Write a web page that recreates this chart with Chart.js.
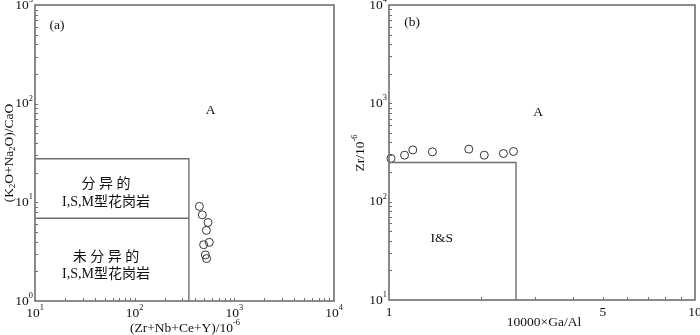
<!DOCTYPE html>
<html>
<head>
<meta charset="utf-8">
<script src="https://cdn.jsdelivr.net/npm/chart.js@4.4.1/dist/chart.umd.min.js"></script>
<style>
  body { margin: 0; background: #fff; }
  #wrap { position: relative; width: 700px; height: 335px; }
  canvas { position: absolute; top: 0; }
</style>
</head>
<body>
<div id="wrap">
  <canvas id="chartA" width="350" height="335" style="left:0"></canvas>
  <canvas id="chartB" width="350" height="335" style="left:350px"></canvas>
</div>
<script>
// (a) (Zr+Nb+Ce+Y) vs (K2O+Na2O)/CaO
const zrNbCeY = [446, 477, 544, 524, 561, 492, 512, 527];
const alkCaO = [9.1, 7.47, 6.25, 5.19, 3.93, 3.72, 2.93, 2.69];

// (b) 10000*Ga/Al vs Zr
const gaAl = [1.015, 1.124, 1.196, 1.386, 1.823, 2.048, 2.366, 2.551];
const zr = [275, 297, 336, 321, 342, 297, 309, 324];

// field boundaries
const aFieldX = 350, aFieldTop = 27.7, aFieldSplit = 6.9;
const bFieldX = 2.6, bFieldY = 250;

// tick labels
const aXTicks = [10, 100, 1000, 10000];
const aYTicks = [1, 10, 100, 1000];
const bXTicks = [1, 5, 10];
const bYTicks = [10, 100, 1000, 10000];

const SERIF = "'Liberation Serif', 'Noto Sans CJK SC', serif";
const LINE = '#6e6e6e';

// draw text made of parts: [text, shift] shift 1 = superscript, -1 = subscript
function richWidth(ctx, parts, size) {
  let w = 0;
  parts.forEach(p => {
    ctx.font = (p[1] ? size * 0.62 : size) + 'px ' + SERIF;
    w += ctx.measureText(p[0]).width;
  });
  return w;
}
function drawRich(ctx, parts, x, y, size, align) {
  const w = richWidth(ctx, parts, size);
  let cx = align === 'right' ? x - w : align === 'left' ? x : x - w / 2;
  ctx.textBaseline = 'middle';
  ctx.textAlign = 'left';
  parts.forEach(p => {
    ctx.font = (p[1] ? size * 0.62 : size) + 'px ' + SERIF;
    const dy = p[1] === 1 ? -size * 0.38 : p[1] === -1 ? size * 0.28 : 0;
    ctx.fillText(p[0], cx, y + dy);
    cx += ctx.measureText(p[0]).width;
  });
}
function logLabel(v) {
  return [['10', 0], [String(Math.round(Math.log10(v))), 1]];
}
function logSteps(min, max) {
  const out = [];
  for (let d = Math.floor(Math.log10(min)); d <= Math.ceil(Math.log10(max)); d++) {
    for (let k = 1; k <= 9; k++) {
      const v = k * Math.pow(10, d);
      if (v > min * 1.0001 && v < max * 0.9999) out.push(v);
    }
  }
  return out;
}

const framePlugin = {
  id: 'frame',
  afterDraw(chart, args, opts) {
    const { ctx, chartArea: a, scales: { x, y } } = chart;
    ctx.save();
    ctx.fillStyle = '#111';
    ctx.strokeStyle = LINE;
    // inward ticks, bottom and left only
    ctx.lineWidth = 1;
    ctx.beginPath();
    logSteps(x.min, x.max).forEach(v => {
      const px = Math.round(x.getPixelForValue(v)) + 0.5;
      ctx.moveTo(px, a.bottom);
      ctx.lineTo(px, a.bottom - 3);
    });
    logSteps(y.min, y.max).forEach(v => {
      const py = Math.round(y.getPixelForValue(v)) + 0.5;
      ctx.moveTo(a.left, py);
      ctx.lineTo(a.left + 3, py);
    });
    ctx.stroke();
    ctx.lineWidth = 1.6;
    ctx.strokeRect(a.left, a.top, a.right - a.left, a.bottom - a.top);

    // tick labels
    opts.xTicks.forEach(v => {
      const parts = opts.xLog ? logLabel(v) : [[String(v), 0]];
      drawRich(ctx, parts, x.getPixelForValue(v), a.bottom + 12, 13.5, 'center');
    });
    opts.yTicks.forEach(v => {
      drawRich(ctx, logLabel(v), a.left - 2, y.getPixelForValue(v), 13.5, 'right');
    });

    // axis titles
    drawRich(ctx, opts.xTitle, opts.xTitlePos[0], opts.xTitlePos[1], 13.5, 'center');
    ctx.save();
    ctx.translate(opts.yTitlePos[0], opts.yTitlePos[1]);
    ctx.rotate(-Math.PI / 2);
    drawRich(ctx, opts.yTitle, 0, 0, 13.5, 'center');
    ctx.restore();

    // field labels
    opts.texts.forEach(t => {
      ctx.font = (t.size || 13.5) + 'px ' + SERIF;
      ctx.textAlign = 'center';
      ctx.textBaseline = 'middle';
      ctx.fillText(t.text, x.getPixelForValue(t.x), y.getPixelForValue(t.y));
    });
    ctx.restore();
  }
};

function boundary(points) {
  return {
    type: 'line', data: points, showLine: true, borderColor: LINE,
    borderWidth: 1.4, pointRadius: 0, tension: 0, fill: false
  };
}
function samples(xs, ys) {
  return {
    data: xs.map((v, i) => ({ x: v, y: ys[i] })),
    pointStyle: 'circle', pointRadius: 4, borderWidth: 1, clip: false,
    borderColor: '#333', backgroundColor: 'rgba(0,0,0,0)'
  };
}
function baseOptions(xMin, xMax, yMin, yMax, padding, frame) {
  return {
    responsive: false, animation: false,
    layout: { padding },
    plugins: { legend: { display: false }, tooltip: { enabled: false }, frame },
    scales: {
      x: { type: 'logarithmic', min: xMin, max: xMax, display: false },
      y: { type: 'logarithmic', min: yMin, max: yMax, display: false }
    }
  };
}

new Chart(document.getElementById('chartA'), {
  type: 'scatter',
  data: {
    datasets: [
      boundary([{ x: 10, y: aFieldTop }, { x: aFieldX, y: aFieldTop }, { x: aFieldX, y: 1 }]),
      boundary([{ x: 10, y: aFieldSplit }, { x: aFieldX, y: aFieldSplit }]),
      samples(zrNbCeY, alkCaO)
    ]
  },
  options: baseOptions(10, 10000, 1, 1000, { left: 35, right: 16, top: 3, bottom: 34 }, {
    xLog: true, xTicks: aXTicks, yTicks: aYTicks,
    xTitle: [['(Zr+Nb+Ce+Y)/10', 0], ['-6', 1]], xTitlePos: [185, 328],
    yTitle: [['(K', 0], ['2', -1], ['O+Na', 0], ['2', -1], ['O)/CaO', 0]], yTitlePos: [9, 153],
    texts: [
      { text: '(a)', x: 16.6, y: 616 },
      { text: 'A', x: 579, y: 86 },
      { text: '分 异 的', x: 51.5, y: 15.1, size: 14 },
      { text: 'I,S,M型花岗岩', x: 51.5, y: 9.93, size: 14 },
      { text: '未 分 异 的', x: 51.5, y: 2.77, size: 14 },
      { text: 'I,S,M型花岗岩', x: 51.5, y: 1.87, size: 14 }
    ]
  }),
  plugins: [framePlugin]
});

new Chart(document.getElementById('chartB'), {
  type: 'scatter',
  data: {
    datasets: [
      boundary([{ x: 1, y: bFieldY }, { x: bFieldX, y: bFieldY }, { x: bFieldX, y: 10 }]),
      samples(gaAl, zr)
    ]
  },
  options: baseOptions(1, 10, 10, 10000, { left: 39, right: 2, top: 3, bottom: 35 }, {
    xLog: false, xTicks: bXTicks, yTicks: bYTicks,
    xTitle: [['10000×Ga/Al', 0]], xTitlePos: [194, 322],
    yTitle: [['Zr/10', 0], ['-6', 1]], yTitlePos: [10, 153],
    texts: [
      { text: '(b)', x: 1.19, y: 6580 },
      { text: 'A', x: 3.07, y: 807 },
      { text: 'I&S', x: 1.486, y: 42.5 }
    ]
  }),
  plugins: [framePlugin]
});
</script>
</body>
</html>
